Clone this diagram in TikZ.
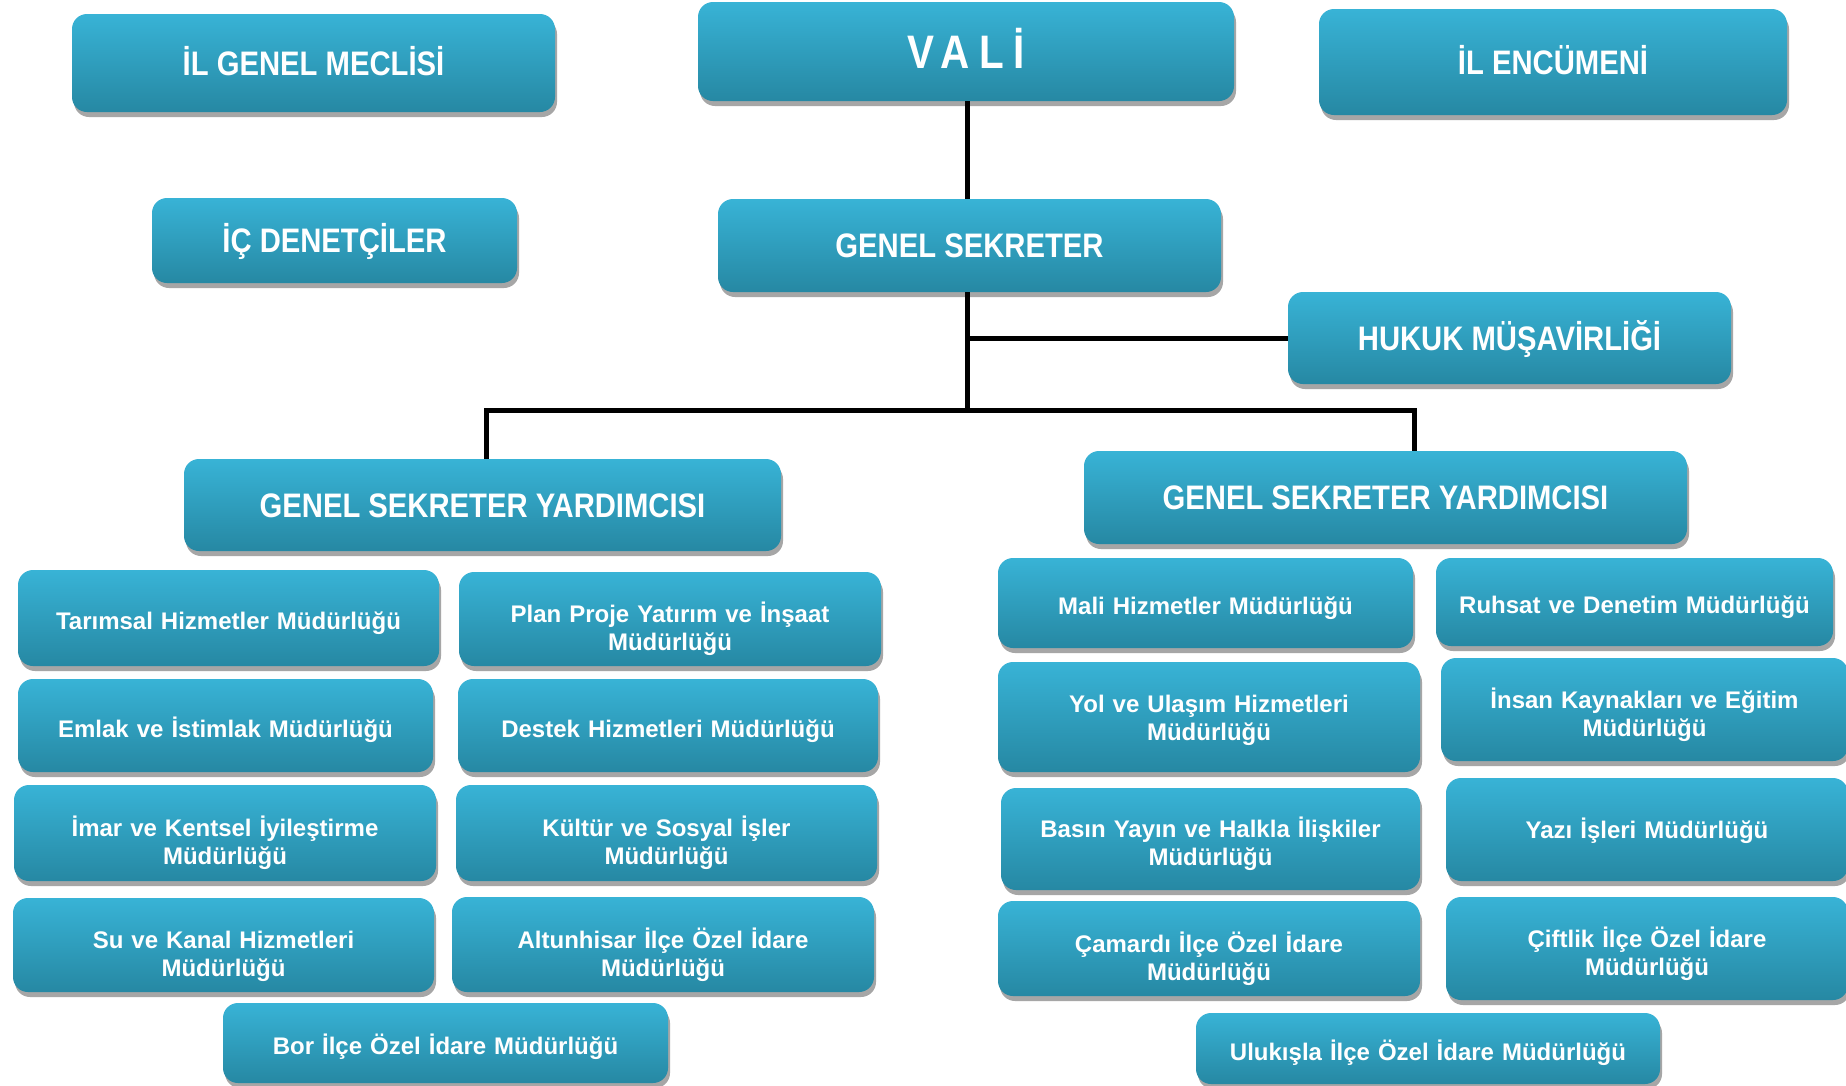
\documentclass[tikz,border=0pt]{standalone}
\usepackage{fontspec}
\setmainfont{Liberation Sans}
\newfontfamily\headfont{Liberation Sans}[FakeStretch=0.86]
\usetikzlibrary{shadows}

\definecolor{boxtop}{RGB}{56,179,214}
\definecolor{boxbottom}{RGB}{38,136,163}
\definecolor{boxshadow}{RGB}{166,166,166}

\tikzset{
	unit/.style = {rounded corners = 15pt, top color = boxtop, bottom color = boxbottom,
		text = white, inner sep = 0pt, align = center,
		drop shadow = {shadow xshift = 2pt, shadow yshift = -5pt, fill = boxshadow, opacity = 1}},
	head/.style = {unit, font = \headfont\bfseries\fontsize{34}{38}\selectfont,
		text height = 24.5pt, text depth = 0pt},
	dept/.style = {unit, text width = 380pt, font = \bfseries\fontsize{24}{28}\selectfont,
		text height = 27pt, text depth = 4pt},
	depttwo/.style = {dept, text height = 28pt, text depth = 21pt},
	link/.style = {line width = 5pt, black},
}

\begin{document}
\begin{tikzpicture}[x = 1pt, y = -1pt]
	\fill[white] (0,0) rectangle (1846,1085);
	\useasboundingbox (0,0) rectangle (1846,1085);

	% top level
	\node[head, minimum width = 483, minimum height = 98] (meclis) at (313.5, 63) {İL GENEL MECLİSİ};
	\node[head, text height = 33.5pt, minimum width = 536, minimum height = 99] (vali) at (966, 51.5)
		{\fontsize{47}{50}\selectfont\addfontfeature{LetterSpace = 20}VALİ};
	\node[head, minimum width = 468, minimum height = 106] (encumen) at (1553, 62) {İL ENCÜMENİ};

	\node[head, minimum width = 365, minimum height = 85] (denetci) at (334.5, 240.5) {İÇ DENETÇİLER};
	\node[head, minimum width = 503, minimum height = 93] (gs) at (969.5, 245.5) {GENEL SEKRETER};
	\node[head, minimum width = 443, minimum height = 92] (hukuk) at (1509.5, 338) {HUKUK MÜŞAVİRLİĞİ};

	\node[head, minimum width = 597, minimum height = 92] (gsyL) at (482.5, 505) {GENEL SEKRETER YARDIMCISI};
	\node[head, minimum width = 603, minimum height = 93] (gsyR) at (1385.5, 497.5) {GENEL SEKRETER YARDIMCISI};

	% left directorates
	\node[dept, minimum width = 421, minimum height = 96] (tarim) at (228.5, 618) {Tarımsal Hizmetler Müdürlüğü};
	\node[depttwo, minimum width = 422, minimum height = 94] (plan) at (670, 619) {Plan Proje Yatırım ve İnşaat\\Müdürlüğü};
	\node[dept, minimum width = 415, minimum height = 93] (emlak) at (225.5, 725.5) {Emlak ve İstimlak Müdürlüğü};
	\node[dept, minimum width = 420, minimum height = 93] (destek) at (668, 725.5) {Destek Hizmetleri Müdürlüğü};
	\node[depttwo, minimum width = 422, minimum height = 96] (imar) at (225, 833) {İmar ve Kentsel İyileştirme\\Müdürlüğü};
	\node[depttwo, minimum width = 421, minimum height = 96] (kultur) at (666.5, 833) {Kültür ve Sosyal İşler\\Müdürlüğü};
	\node[depttwo, minimum width = 421, minimum height = 94] (su) at (223.5, 945) {Su ve Kanal Hizmetleri\\Müdürlüğü};
	\node[depttwo, minimum width = 422, minimum height = 95] (altun) at (663, 944.5) {Altunhisar İlçe Özel İdare\\Müdürlüğü};
	\node[dept, minimum width = 445, minimum height = 80] (bor) at (445.5, 1043) {Bor İlçe Özel İdare Müdürlüğü};

	% right directorates
	\node[dept, minimum width = 415, minimum height = 90] (mali) at (1205.5, 603) {Mali Hizmetler Müdürlüğü};
	\node[dept, minimum width = 397, minimum height = 88] (ruhsat) at (1634.5, 602) {Ruhsat ve Denetim Müdürlüğü};
	\node[depttwo, text height = 20pt, text depth = 29pt, minimum width = 422, minimum height = 110] (yol) at (1209, 717) {Yol ve Ulaşım Hizmetleri\\Müdürlüğü};
	\node[depttwo, text height = 23pt, text depth = 26pt, minimum width = 407, minimum height = 103] (insan) at (1644.5, 709.5) {İnsan Kaynakları ve Eğitim\\Müdürlüğü};
	\node[depttwo, text height = 23pt, text depth = 26pt, minimum width = 419, minimum height = 102] (basin) at (1210.5, 839) {Basın Yayın ve Halkla İlişkiler\\Müdürlüğü};
	\node[dept, text height = 25pt, text depth = 7pt, minimum width = 402, minimum height = 103] (yazi) at (1647, 829.5) {Yazı İşleri Müdürlüğü};
	\node[depttwo, minimum width = 422, minimum height = 95] (camardi) at (1209, 948.5) {Çamardı İlçe Özel İdare\\Müdürlüğü};
	\node[depttwo, text height = 23pt, text depth = 26pt, minimum width = 402, minimum height = 103] (ciftlik) at (1647, 948.5) {Çiftlik İlçe Özel İdare\\Müdürlüğü};
	\node[dept, text width = 440pt, minimum width = 464, minimum height = 71] (ulukisla) at (1428, 1048.5) {Ulukışla İlçe Özel İdare Müdürlüğü};

	% connectors
	\coordinate (split) at (967, 410);
	\coordinate (barL) at (486, 410);
	\coordinate (barR) at (1414, 410);

	\draw[link] (vali.south -| split) -- (gs.north -| split);
	\draw[link] (gs.south -| split) -- (split);
	\draw[link] (hukuk.west -| split) -- (hukuk.west);
	\draw[link] (gsyL.north -| barL) -- (barL) -- (barR) -- (gsyR.north -| barR);
\end{tikzpicture}
\end{document}
